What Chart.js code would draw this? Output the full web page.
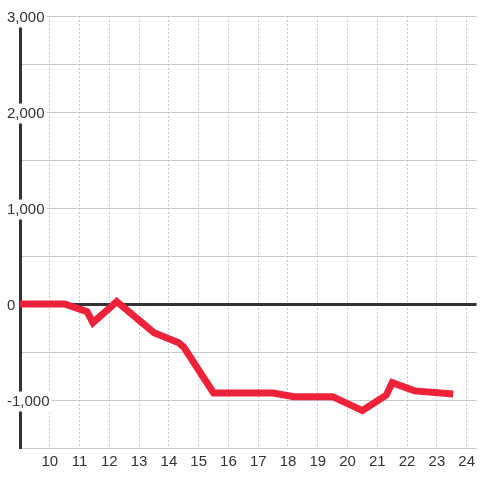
<!DOCTYPE html>
<html>
<head>
<meta charset="utf-8">
<script src="https://cdn.jsdelivr.net/npm/chart.js@4"></script>
<style>
  html, body { margin: 0; padding: 0; background: #fff; }
  #wrap { width: 480px; height: 480px; }
</style>
</head>
<body>
<div id="wrap"><canvas id="lineChart" width="480" height="480"></canvas></div>
<script>
// hour of day (x) and value (y)
const hours = [9, 10.5, 11.25, 11.45, 12.25, 13.5, 14.33, 14.5, 15.5, 17.5, 18.2, 19.5, 20.5, 21.3, 21.5, 22.25, 23.55];
const values = [0, 0, -80, -195, 25, -300, -405, -450, -927, -927, -965, -965, -1110, -950, -820, -905, -937];
const xTicks = [10, 11, 12, 13, 14, 15, 16, 17, 18, 19, 20, 21, 22, 23, 24];
const yLabelTicks = [-1000, 0, 1000, 2000, 3000];

const points = hours.map((h, i) => ({ x: h, y: values[i] }));
const labelFont = { family: 'Liberation Sans, Arial, sans-serif', size: 15 };

const ctx = document.getElementById('lineChart');
new Chart(ctx.getContext('2d'), {
    type: 'line',
    data: {
        datasets: [{
            data: points,
            borderColor: '#ee2238',
            borderWidth: 7,
            pointRadius: 0,
            tension: 0,
            fill: false
        }]
    },
    options: {
        responsive: false,
        animation: false,
        layout: { padding: { left: 20, top: 16, right: 0, bottom: 4 } },
        plugins: { legend: { display: false }, tooltip: { enabled: false } },
        scales: {
            x: {
                type: 'linear',
                min: 9,
                max: 24.333,
                afterBuildTicks: function(scale) {
                    scale.ticks = xTicks.map(v => ({ value: v }));
                },
                border: { display: false, dash: [2, 2] },
                grid: { color: '#c8c8c8', lineWidth: 1, drawTicks: false },
                ticks: {
                    color: '#333',
                    font: labelFont,
                    padding: 5,
                    maxRotation: 0,
                    autoSkip: false
                }
            },
            y: {
                min: -1500,
                max: 3000,
                afterFit: function(scale) {
                    // labels sit on top of the axis line, so the axis takes no room
                    scale.width = 0;
                },
                border: { display: true, color: '#333', width: 3 },
                grid: {
                    drawTicks: false,
                    color: c => c.tick && c.tick.value === 0 ? '#333' : '#c8c8c8',
                    lineWidth: c => c.tick && c.tick.value === 0 ? 3 : 1
                },
                ticks: {
                    stepSize: 500,
                    mirror: true,
                    padding: -13,
                    labelOffset: 1.5,
                    color: '#333',
                    font: labelFont,
                    showLabelBackdrop: true,
                    backdropColor: '#fff',
                    backdropPadding: { x: 2, y: 1 },
                    callback: function(value) {
                        return yLabelTicks.includes(value) ? value.toLocaleString('en-US') : '';
                    }
                }
            }
        }
    }
});
</script>
</body>
</html>
